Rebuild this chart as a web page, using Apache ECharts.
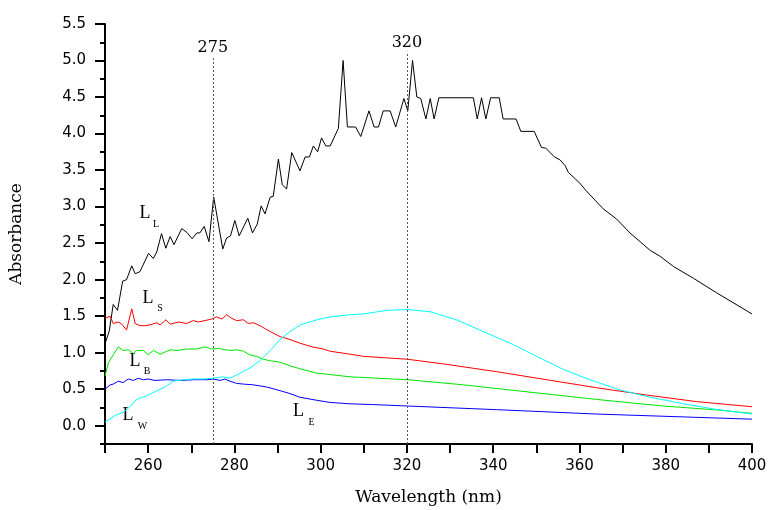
<!DOCTYPE html>
<html>
<head>
<meta charset="utf-8">
<script src="https://cdn.jsdelivr.net/npm/echarts@6/dist/echarts.min.js"></script>
<style>html,body{margin:0;padding:0;background:#fff;}#c{width:769px;height:510px;}</style>
</head>
<body>
<div id="c"></div>
<script>
// ---- data ----
const llWave = [250,251,251.9,252.9,254.1,255,256.2,257,258.1,260.1,261.2,262,263.1,264.1,265.1,266,267.8,269.1,270.2,271.3,272,273,274.1,275.2,277.3,278.2,279.1,280.1,281.1,283.1,284.2,285.3,286.2,287.1,288.3,289,290.2,291.1,292.1,293.3,295.2,296.4,297.4,298.3,299.3,300.2,301.2,302.2,304.1,305.2,306.2,308.1,309.3,311.2,312.4,313.4,314.5,316.1,317.4,319.3,320.2,321.3,322.3,323.2,324.4,325.4,326.3,327.4,335.4,336.3,337.3,338.3,339.4,341.4,342.3,345.3,346.4,349.5,351.2,352.2,354.2,355.5,356.7,357.4,360.1,361.5,365.5,368.6,371.7,376.4,378.7,381.8,386.4,391.8,400];
const llAbs  = [1.12,1.30,1.66,1.58,1.98,2.00,2.19,2.08,2.11,2.36,2.29,2.38,2.63,2.43,2.59,2.48,2.70,2.64,2.56,2.64,2.64,2.73,2.52,3.13,2.42,2.57,2.60,2.81,2.60,2.84,2.64,2.76,3.01,2.90,3.13,3.14,3.65,3.30,3.24,3.74,3.49,3.68,3.68,3.83,3.75,3.94,3.83,3.83,4.07,5.00,4.09,4.09,3.96,4.31,4.09,4.09,4.31,4.31,4.09,4.48,4.31,5.00,4.50,4.48,4.20,4.48,4.20,4.49,4.49,4.20,4.49,4.20,4.49,4.49,4.20,4.20,4.03,4.03,3.81,3.80,3.68,3.64,3.56,3.47,3.32,3.22,2.97,2.83,2.64,2.40,2.32,2.18,2.02,1.82,1.53];

const lsWave = [250,251.2,251.9,253.1,253.9,255,256.2,257,258.1,259.3,260.4,262,262.8,264.1,265.1,267,268.9,270.5,271.6,273.2,274.7,275.9,277.1,278.2,279.4,280.5,282.1,283.2,284.4,285.9,288.3,290.6,292.9,295.2,298,300.6,302.2,306.8,309.9,320.2,329.2,340.8,352.4,364,375.6,387.2,400];
const lsAbs  = [1.47,1.50,1.40,1.42,1.39,1.31,1.60,1.40,1.37,1.37,1.38,1.41,1.38,1.45,1.39,1.42,1.40,1.44,1.42,1.44,1.46,1.49,1.46,1.52,1.47,1.44,1.45,1.40,1.41,1.37,1.29,1.22,1.18,1.13,1.08,1.05,1.02,0.98,0.95,0.91,0.84,0.74,0.63,0.52,0.42,0.33,0.26];

const lbWave = [250,250.8,251.9,253.1,254.2,255.4,256.6,257.3,258.9,260,261.2,262.8,265.1,266.6,268.9,271.3,273.2,274.7,276.3,277.8,279.4,280.5,282.1,283.6,285.2,286.7,288.3,290.6,292.9,295.2,299.1,302.2,306.8,320.2,333.1,348.5,364,379.4,391,400];
const lbAbs  = [0.68,0.86,0.97,1.08,1.03,1.04,0.99,1.03,1.03,0.97,1.03,0.98,1.04,1.03,1.05,1.05,1.08,1.05,1.06,1.04,1.03,1.04,1.02,0.97,0.95,0.91,0.89,0.87,0.82,0.78,0.72,0.70,0.67,0.63,0.56,0.46,0.36,0.27,0.22,0.17];

const leWave = [250,251.2,251.9,253.1,254.2,255.4,256.6,257.7,258.9,260,261.6,264.3,267.4,270.5,273.6,275.1,276.7,277.8,279,280.5,282.1,284.4,287.5,290.6,292.9,295.2,298,302,306.8,312,320.2,340.8,364,379.4,400];
const leAbs  = [0.50,0.56,0.57,0.61,0.59,0.64,0.62,0.65,0.63,0.64,0.62,0.63,0.62,0.63,0.63,0.64,0.62,0.64,0.61,0.58,0.57,0.56,0.53,0.48,0.44,0.39,0.36,0.32,0.30,0.29,0.27,0.22,0.16,0.13,0.09];

const lwWave = [250,252.3,253.5,254.2,255.8,257.3,259.7,262,263.9,265.8,268.2,270.5,272.8,275.1,277.4,279,281.3,283.6,285.9,288.3,290.6,292.9,295.2,299.1,302.2,306.8,309.9,315.3,320.2,325.4,331.5,336.9,344.7,350.1,356.3,362.4,369.4,375.6,383.3,391,400];
const lwAbs  = [0.05,0.14,0.17,0.18,0.26,0.36,0.41,0.48,0.53,0.61,0.63,0.64,0.64,0.65,0.67,0.65,0.72,0.79,0.89,1.03,1.18,1.29,1.38,1.45,1.49,1.52,1.53,1.58,1.59,1.56,1.45,1.31,1.11,0.95,0.77,0.63,0.49,0.40,0.31,0.23,0.16];

const yTickLabels = [0,0.5,1,1.5,2,2.5,3,3.5,4,4.5,5,5.5];
const yMinorTicks = [-0.25,0.25,0.75,1.25,1.75,2.25,2.75,3.25,3.75,4.25,4.75,5.25];
const markWaves = [275, 320];
const markTops = [5.03, 5.12];

// ---- chart ----
const zip = (xs, ys) => xs.map((x, i) => [x, ys[i]]);
const serif = 'Liberation Serif';
const dserif = 'DejaVu Serif';
const sans = 'DejaVu Sans';
const chart = echarts.init(document.getElementById('c'), null, {renderer: 'canvas'});

function lineSeries(name, xs, ys, color, extra) {
  return Object.assign({
    name, type: 'line', data: zip(xs, ys), showSymbol: false, symbol: 'none',
    lineStyle: {color, width: 1}, itemStyle: {color}, animation: false, silent: true, z: 3
  }, extra || {});
}

const markLineData = markWaves.map((w, i) => [
  {coord: [w, -0.25]},
  {coord: [w, markTops[i]], label: {show: true, formatter: String(w), position: 'end', distance: i === 0 ? 2 : 1}}
]);

function subLabel(main, sub, mx, my, sx, sy) {
  return [
    {type: 'text', x: mx, y: my, style: {text: main, font: '18px "' + serif + '"', fill: '#000', align: 'center', verticalAlign: 'middle'}},
    {type: 'text', x: sx, y: sy, style: {text: sub, font: '10px "' + serif + '"', fill: '#000', align: 'center', verticalAlign: 'middle'}}
  ];
}

const option = {
  animation: false,
  backgroundColor: '#fff',
  grid: {left: 105, right: 17, top: 24, bottom: 66, containLabel: false, outerBoundsMode: 'none'},
  xAxis: {
    type: 'value', min: 250, max: 400, interval: 10,
    name: 'Wavelength (nm)', nameLocation: 'middle', nameGap: 45,
    nameTextStyle: {fontFamily: dserif, fontSize: 17, color: '#000'},
    axisLine: {show: true, onZero: false, lineStyle: {color: '#000', width: 2}},
    axisTick: {show: true, length: 9, lineStyle: {color: '#000', width: 2}},
    axisLabel: {color: '#000', fontFamily: sans, fontSize: 15, margin: 15,
      formatter: v => (v % 20 === 0 ? String(v) : '')},
    splitLine: {show: false}
  },
  yAxis: [
    {
      type: 'value', min: -0.25, max: 5.5, position: 'left',
      name: 'Absorbance', nameLocation: 'middle', nameGap: 80, nameRotate: 90,
      nameTextStyle: {fontFamily: dserif, fontSize: 17, color: '#000'},
      axisLine: {show: true, onZero: false, lineStyle: {color: '#000', width: 2}},
      axisTick: {show: true, length: 10, customValues: yTickLabels, lineStyle: {color: '#000', width: 2}},
      axisLabel: {color: '#000', fontFamily: sans, fontSize: 15, margin: 19, customValues: yTickLabels,
        formatter: v => Number(v).toFixed(1)},
      splitLine: {show: false}
    },
    {
      type: 'value', min: -0.25, max: 5.5, position: 'left',
      axisLine: {show: false},
      axisTick: {show: true, length: 5, customValues: yMinorTicks, lineStyle: {color: '#000', width: 2}},
      axisLabel: {show: false},
      splitLine: {show: false}
    }
  ],
  series: [
    lineSeries('L_L', llWave, llAbs, '#000000', {
      markLine: {
        silent: true, symbol: ['none', 'none'], animation: false,
        lineStyle: {color: '#555', type: [2, 2], width: 1},
        label: {color: '#000', fontFamily: dserif, fontSize: 16},
        data: markLineData
      }
    }),
    lineSeries('L_S', lsWave, lsAbs, '#ff0000'),
    lineSeries('L_B', lbWave, lbAbs, '#00e600'),
    lineSeries('L_E', leWave, leAbs, '#0000ff'),
    lineSeries('L_W', lwWave, lwAbs, '#00ffff')
  ],
  graphic: [].concat(
    subLabel('L', 'L', 145, 213, 156, 224.5),
    subLabel('L', 'S', 148, 298, 160, 308.5),
    subLabel('L', 'B', 135, 361, 147, 371),
    subLabel('L', 'W', 128, 415.5, 142.5, 426),
    subLabel('L', 'E', 298.5, 411.5, 311.5, 422)
  )
};
chart.setOption(option);
</script>
</body>
</html>
